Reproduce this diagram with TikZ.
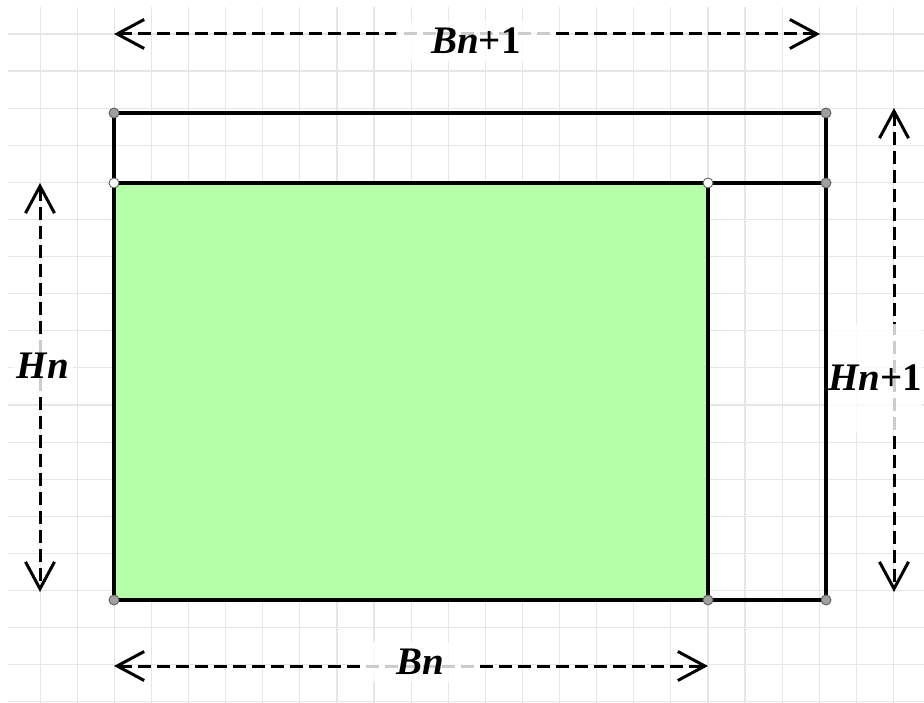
\documentclass[tikz,border=0pt]{standalone}
\usepackage{fontspec}
\setmainfont{Liberation Serif}
\usetikzlibrary{arrows.meta}

\definecolor{gridgray}{RGB}{230,230,230}
\definecolor{dotgray}{RGB}{160,160,160}
\definecolor{areagreen}{RGB}{180,255,168}

\tikzset{
  gridline/.style={draw=gridgray,line width=1.2pt},
  edgeline/.style={draw=black,line width=4.2pt,line join=miter},
  corner/.style={circle,draw=dotgray!60!black,line width=0.9pt,fill=dotgray,minimum size=10pt,inner sep=0pt},
  opencorner/.style={corner,fill=white},
  dimline/.style={draw=black,line width=3pt,dash pattern=on 13pt off 6pt,
    {Straight Barb[length=27pt,width=29pt,line width=3pt]}-{Straight Barb[length=27pt,width=29pt,line width=3pt]}},
  dimlabel/.style={fill=white,fill opacity=0.8,text opacity=1,inner sep=0pt,
    font=\fontsize{39pt}{40pt}\selectfont\bfseries}
}

\begin{document}
\begin{tikzpicture}[x=1pt,y=-1pt]

      \useasboundingbox (0,0) rectangle (924,703);

      % grid
      \foreach \gx in {1,...,24}
        \draw[gridline] ({3+37.1*\gx},7) -- ({3+37.1*\gx},703);
      \foreach \gy in {0,...,18}
        \draw[gridline] (8,{34+37.1*\gy}) -- (924,{34+37.1*\gy});

      % corners
      \coordinate (A) at (114,113);
      \coordinate (B) at (826,113);
      \coordinate (C) at (826,183);
      \coordinate (D) at (826,600);
      \coordinate (E) at (708,600);
      \coordinate (F) at (114,600);
      \coordinate (G) at (114,183);
      \coordinate (K) at (708,183);

      \fill[areagreen] (G) rectangle (E);

      \draw[edgeline] (A) -- (B) -- (D) -- (F) -- cycle;
      \draw[edgeline] (G) -- (C);
      \draw[edgeline] (K) -- (E);

      \begin{scope}[every node/.style={corner}]
        \node (a) at (A) {};
        \node (b) at (B) {};
        \node (c) at (C) {};
        \node (d) at (D) {};
        \node (e) at (E) {};
        \node (f) at (F) {};
      \end{scope}
      \node[opencorner] (g) at (G) {};
      \node[opencorner] (k) at (K) {};

      % dimension arrows
      \coordinate (topL) at (114,34);
      \coordinate (topR) at (820,34);
      \coordinate (botL) at (114,666);
      \coordinate (botR) at (708,666);
      \coordinate (lefT) at (40,183);
      \coordinate (lefB) at (40,592);
      \coordinate (rigT) at (894,108);
      \coordinate (rigB) at (894,592);

      \draw[dimline] (topL) -- (topR);
      \draw[dimline] (botL) -- (botR);
      \draw[dimline] (lefT) -- (lefB);
      \draw[dimline] (rigT) -- (rigB);

      \node[dimlabel,minimum width=160pt,minimum height=40pt] (Btop) at (476,41) {\itshape Bn\upshape+1};
      \node[dimlabel,minimum width=120pt,minimum height=40pt] (Bbot) at (420,662) {\itshape Bn};
      \node[dimlabel,minimum width=60pt,minimum height=61pt] (Hleft) at (43,366) {\itshape Hn};
      \node[dimlabel,minimum height=107pt] (Hright) at (875,378) {\itshape Hn\upshape+1};

    \end{tikzpicture}
\end{document}
